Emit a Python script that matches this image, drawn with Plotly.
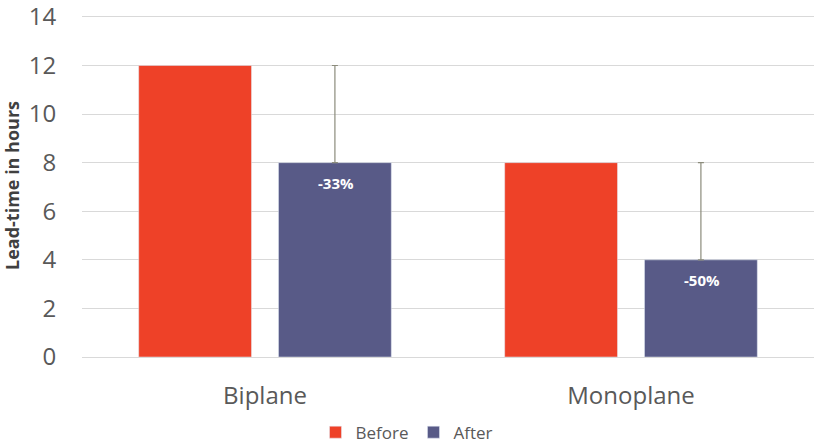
import plotly.graph_objects as go

categories = ["Biplane", "Monoplane"]
before = [12, 8]
after = [8, 4]
after_err_plus = [4, 4]
after_err_minus = [0, 0]
after_labels = ["-33%", "-50%"]

fig = go.Figure()
fig.add_trace(go.Bar(
    x=categories, y=before, name="Before",
    marker=dict(color="#EE4128"),
))
fig.add_trace(go.Bar(
    x=categories, y=after, name="After",
    marker=dict(color="#585A87"),
    error_y=dict(type="data", symmetric=False, array=after_err_plus, arrayminus=after_err_minus,
                 color="#8C8C7C", thickness=1.2, width=3),
))

for cat, val, lab in zip(categories, after, after_labels):
    fig.add_annotation(x=cat, y=val, text="<b>%s</b>" % lab, showarrow=False,
                       xshift=70.5, yshift=-20, yanchor="middle",
                       font=dict(color="white", size=15, family="Open Sans"))

fig.update_layout(
    width=814, height=446,
    margin=dict(l=82, r=0, t=14, b=89),
    paper_bgcolor="white", plot_bgcolor="white",
    barmode="group", bargap=0.236, bargroupgap=0.193,
    font=dict(family="Open Sans", color="#595959"),
    legend=dict(orientation="h", xref="container", x=0.5, xanchor="center",
                yref="container", y=0.03, yanchor="middle",
                font=dict(size=17), traceorder="normal", itemwidth=30),
    showlegend=True,
)
fig.update_yaxes(range=[0, 14.12], tickvals=[0, 2, 4, 6, 8, 10, 12, 14],
                 gridcolor="#D9D9D9", gridwidth=1,
                 tickfont=dict(size=24), zeroline=False, ticklabeloverflow="allow",
                 ticks="outside", ticklen=20, tickcolor="rgba(0,0,0,0)",
                 title=dict(text="<b>Lead-time in hours</b>", font=dict(size=18, color="#404040"), standoff=8))
fig.update_xaxes(tickfont=dict(size=24), showline=True, linecolor="#D9D9D9",
                 ticks="outside", ticklen=17, tickcolor="rgba(0,0,0,0)")

fig.write_html("out.html")
